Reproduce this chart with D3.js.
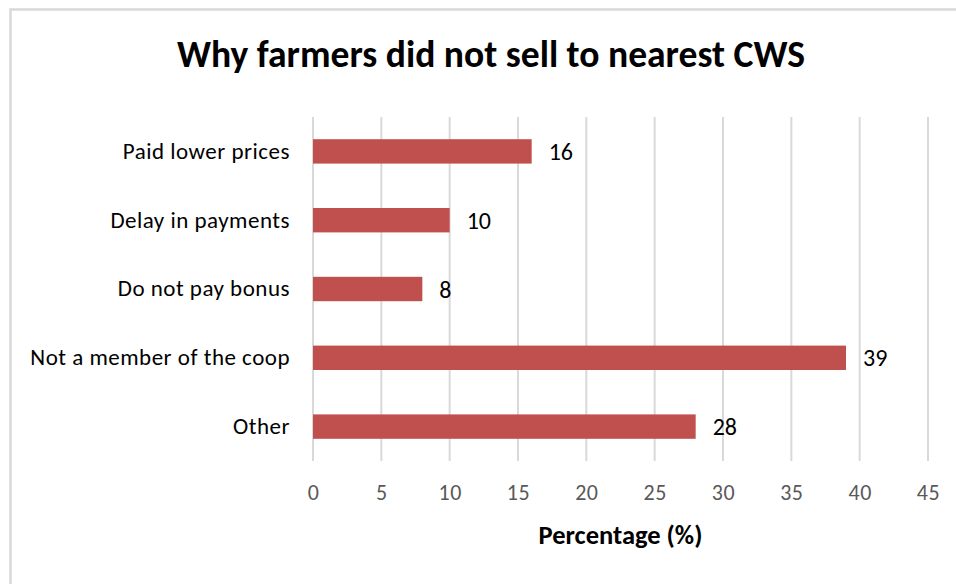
<!DOCTYPE html>
<html>
<head>
<meta charset="utf-8">
<script src="https://cdn.jsdelivr.net/npm/d3@7/dist/d3.min.js"></script>
<style>
  html, body { margin: 0; padding: 0; background: #fff; }
  svg { display: block; }
  text { font-family: Carlito, Lato, "Liberation Sans", sans-serif; }
</style>
</head>
<body>
<svg id="chart" width="956" height="584"></svg>
<script>
// Reasons given, top to bottom
const categories = [
  "Paid lower prices",
  "Delay in payments",
  "Do not pay bonus",
  "Not a member of the coop",
  "Other"
];
// Share of farmers (%)
const values = [16, 10, 8, 39, 28];
// Axis ticks
const tickValues = [0, 5, 10, 15, 20, 25, 30, 35, 40, 45];

const titleText = "Why farmers did not sell to nearest CWS";
const axisTitle = "Percentage (%)";

const FONT = "Carlito, Lato, 'Liberation Sans', sans-serif";
const svg = d3.select("#chart");

// chart frame (only top and left edges fall inside the view)
svg.append("rect")
  .attr("x", 10.5).attr("y", 9.5)
  .attr("width", 1000).attr("height", 1000)
  .attr("fill", "#fff")
  .attr("stroke", "#d9d9d9")
  .attr("stroke-width", 2.5);

const plot = { left: 313, right: 928, top: 117, bottom: 461 };

const x = d3.scaleLinear().domain([0, 45]).range([plot.left, plot.right]);
const y = d3.scaleBand().domain(categories).range([plot.top, plot.bottom]).paddingInner(0.66).paddingOuter(0.33);

// vertical gridlines
svg.append("g")
  .selectAll("line")
  .data(tickValues)
  .join("line")
  .attr("x1", d => x(d)).attr("x2", d => x(d))
  .attr("y1", plot.top).attr("y2", plot.bottom)
  .attr("stroke", "#d9d9d9")
  .attr("stroke-width", 2);

// bars
svg.append("g")
  .selectAll("rect")
  .data(values)
  .join("rect")
  .attr("x", x(0))
  .attr("y", (d, i) => y(categories[i]) - 0.5)
  .attr("width", d => x(d) - x(0))
  .attr("height", y.bandwidth() + 1)
  .attr("fill", "#c0504d");

// value labels
svg.append("g")
  .selectAll("text")
  .data(values)
  .join("text")
  .attr("x", d => x(d) + 17)
  .attr("y", (d, i) => y(categories[i]) + y.bandwidth() / 2)
  .attr("dy", "0.36em")
  .attr("font-size", 24)
  .attr("fill", "#000")
  .text(d => d);

// category axis labels
const yAxis = d3.axisLeft(y).tickSize(0).tickPadding(23);
const yg = svg.append("g").attr("transform", `translate(${plot.left},0)`).call(yAxis);
yg.select(".domain").remove();
yg.selectAll("text")
  .attr("font-size", 23)
  .attr("font-family", FONT)
  .attr("letter-spacing", 0.5)
  .attr("fill", "#000");

// value axis
const xAxis = d3.axisBottom(x).tickValues(tickValues).tickSize(0).tickPadding(23);
const xg = svg.append("g").attr("transform", `translate(0,${plot.bottom})`).call(xAxis);
xg.select(".domain").remove();
xg.selectAll("text")
  .attr("font-size", 22)
  .attr("font-family", FONT)
  .attr("letter-spacing", 0.5)
  .attr("fill", "#595959");

// titles
svg.append("text")
  .attr("x", 491).attr("y", 67)
  .attr("text-anchor", "middle")
  .attr("font-size", 37.6)
  .attr("font-weight", "bold")
  .attr("fill", "#000")
  .text(titleText);

svg.append("text")
  .attr("x", (plot.left + plot.right) / 2).attr("y", 544)
  .attr("text-anchor", "middle")
  .attr("font-size", 26.5)
  .attr("font-weight", "bold")
  .attr("fill", "#000")
  .text(axisTitle);
</script>
</body>
</html>
